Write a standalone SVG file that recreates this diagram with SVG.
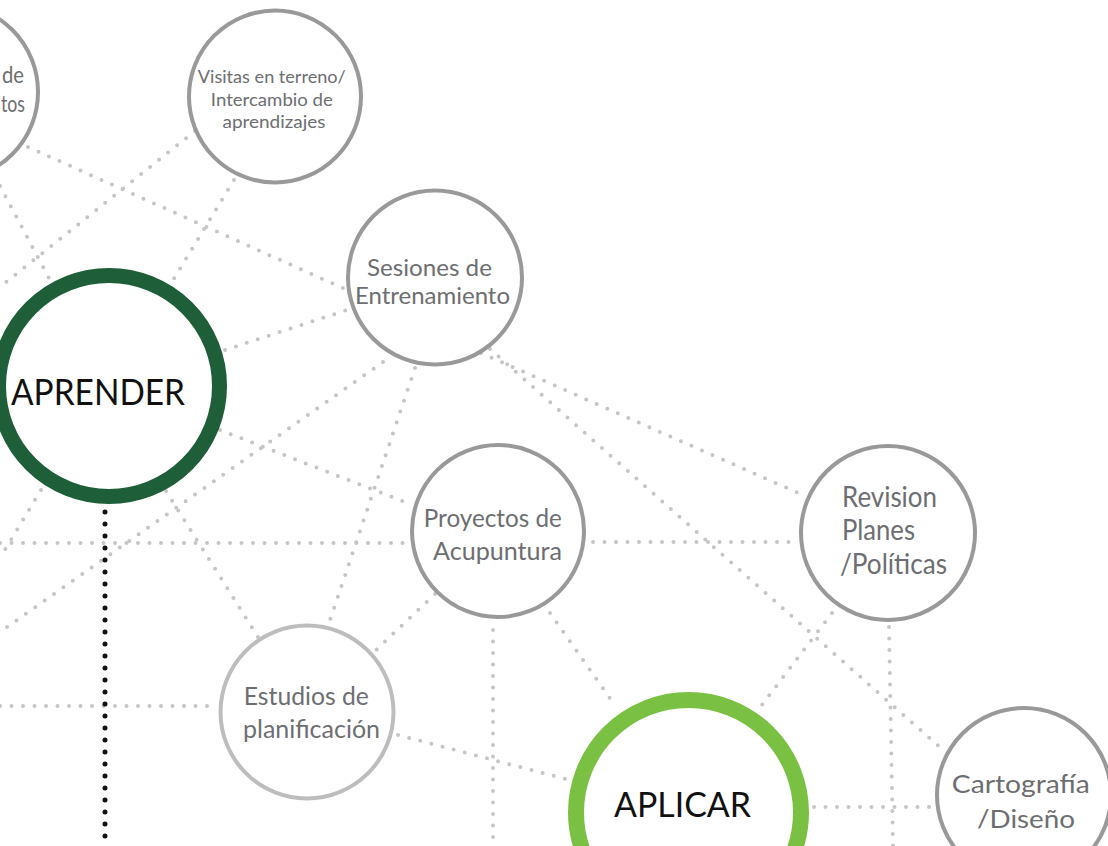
<svg xmlns="http://www.w3.org/2000/svg" width="1108" height="846" viewBox="0 0 1108 846">
<style>
.bg{fill:#ffffff}
.c{fill:#ffffff;stroke:#999999;stroke-width:4}
.cl{fill:#ffffff;stroke:#bdbdbd;stroke-width:4}
.big1{fill:#ffffff;stroke:#1e5e39;stroke-width:15}
.big2{fill:#ffffff;stroke:#7ac143;stroke-width:16}
.t{font-family:Lato,"Open Sans",sans-serif;fill:#6d6e71}
.tb{font-family:Lato,"Open Sans",sans-serif;fill:#111111}
.d{fill:none;stroke:#c6c6c6;stroke-width:4;stroke-linecap:round;stroke-dasharray:0 11.5}
.k{fill:none;stroke:#111111;stroke-width:5;stroke-linecap:round;stroke-dasharray:0 12}
</style>
<rect class="bg" x="0" y="0" width="1108" height="846"/>
<g id="connectors">
<line class="d" x1="28" y1="147" x2="345" y2="289"/>
<line class="d" x1="195" y1="131" x2="0" y2="287"/>
<line class="d" x1="0" y1="186" x2="50" y2="280"/>
<line class="d" x1="234" y1="180" x2="170" y2="285"/>
<line class="d" x1="225" y1="350" x2="350" y2="309"/>
<line class="d" x1="383" y1="362" x2="0" y2="632"/>
<line class="d" x1="415" y1="368" x2="330" y2="620"/>
<line class="d" x1="481" y1="353" x2="803" y2="495"/>
<line class="d" x1="490" y1="349" x2="943" y2="750"/>
<line class="d" x1="220" y1="430" x2="410" y2="504"/>
<line class="d" x1="0" y1="543" x2="405" y2="543"/>
<line class="d" x1="593" y1="542" x2="797" y2="542"/>
<line class="d" x1="166" y1="491" x2="258" y2="637"/>
<line class="d" x1="435" y1="594" x2="374" y2="652"/>
<line class="d" x1="493" y1="630" x2="493" y2="846"/>
<line class="d" x1="550" y1="613" x2="614" y2="704"/>
<line class="d" x1="832" y1="613" x2="758" y2="710"/>
<line class="d" x1="889" y1="627" x2="893" y2="846"/>
<line class="d" x1="814" y1="807" x2="933" y2="807"/>
<line class="d" x1="398" y1="735" x2="566" y2="779"/>
<line class="d" x1="0" y1="706" x2="210" y2="706"/>
<line class="d" x1="41" y1="490" x2="0" y2="558"/>
<line class="k" x1="105" y1="512" x2="105" y2="846"/>
</g>
<g id="node-topleft">
<circle class="c" cx="-50" cy="92" r="88"/>
<text class="t" x="24" y="83" font-size="23" text-anchor="end" textLength="22" lengthAdjust="spacingAndGlyphs">de</text>
<text class="t" x="25" y="112" font-size="23" text-anchor="end" textLength="24" lengthAdjust="spacingAndGlyphs">tos</text>
</g>
<g id="node-visitas">
<circle class="c" cx="275" cy="96.5" r="86"/>
<text class="t" font-size="17" text-anchor="middle">
<tspan x="274" y="83" textLength="148" lengthAdjust="spacingAndGlyphs">Visitas en terreno/</tspan>
<tspan x="274" y="106" textLength="122" lengthAdjust="spacingAndGlyphs">Intercambio de</tspan>
<tspan x="274" y="128" textLength="103" lengthAdjust="spacingAndGlyphs">aprendizajes</tspan>
</text>
</g>
<g id="node-sesiones">
<circle class="c" cx="435" cy="277.5" r="87"/>
<text class="t" font-size="24" text-anchor="middle">
<tspan x="432.5" y="276" textLength="125" lengthAdjust="spacingAndGlyphs">Sesiones de</tspan>
<tspan x="432.5" y="304" textLength="155" lengthAdjust="spacingAndGlyphs">Entrenamiento</tspan>
</text>
</g>
<g id="node-aprender">
<circle class="big1" cx="109" cy="386" r="110.5"/>
<text class="tb" x="98" y="405" font-size="37" text-anchor="middle" textLength="174" lengthAdjust="spacingAndGlyphs">APRENDER</text>
</g>
<g id="node-proyectos">
<circle class="c" cx="498" cy="531" r="86"/>
<text class="t" font-size="25" text-anchor="middle">
<tspan x="496" y="527" textLength="138" lengthAdjust="spacingAndGlyphs">Proyectos de</tspan>
<tspan x="497.5" y="560" textLength="129" lengthAdjust="spacingAndGlyphs">Acupuntura</tspan>
</text>
</g>
<g id="node-revision">
<circle class="c" cx="888" cy="533" r="87"/>
<text class="t" font-size="28">
<tspan x="842" y="507" textLength="95" lengthAdjust="spacingAndGlyphs">Revision</tspan>
<tspan x="842" y="540" textLength="73" lengthAdjust="spacingAndGlyphs">Planes</tspan>
<tspan x="840" y="574" textLength="107" lengthAdjust="spacingAndGlyphs">/Políticas</tspan>
</text>
</g>
<g id="node-estudios">
<circle class="cl" cx="307" cy="712" r="86.5"/>
<text class="t" font-size="25" text-anchor="middle">
<tspan x="309.5" y="705" textLength="125" lengthAdjust="spacingAndGlyphs">Estudios de</tspan>
<tspan x="311.5" y="738" textLength="137" lengthAdjust="spacingAndGlyphs">planificación</tspan>
</text>
</g>
<g id="node-aplicar">
<circle class="big2" cx="688.5" cy="812.5" r="112.5"/>
<text class="tb" x="682.5" y="817" font-size="35" text-anchor="middle" textLength="137" lengthAdjust="spacingAndGlyphs">APLICAR</text>
</g>
<g id="node-cartografia">
<circle class="c" cx="1024" cy="795" r="87"/>
<text class="t" font-size="25" text-anchor="middle">
<tspan x="1024" y="793" textLength="138" lengthAdjust="spacingAndGlyphs">Cartografía</tspan>
<tspan x="1026" y="828" textLength="98" lengthAdjust="spacingAndGlyphs">/Diseño</tspan>
</text>
</g>
</svg>
